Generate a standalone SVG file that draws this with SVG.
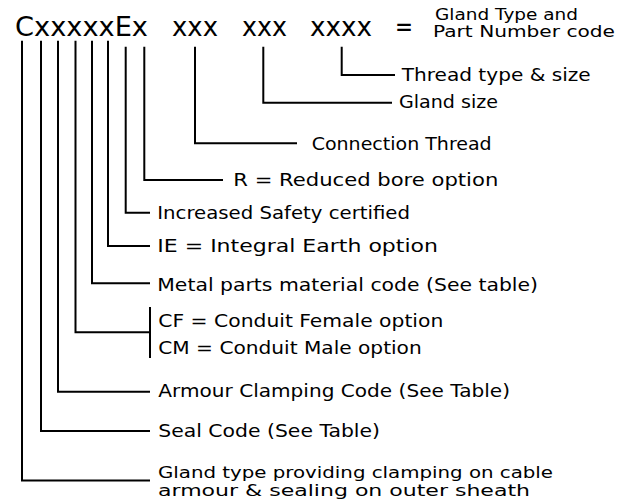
<svg xmlns="http://www.w3.org/2000/svg" width="621" height="500" viewBox="0 0 621 500">
<style>
.t{font-family:"DejaVu Sans","Liberation Sans",sans-serif;font-size:17px;fill:#000}
.s{font-family:"DejaVu Sans","Liberation Sans",sans-serif;font-size:16px;fill:#000}
.g{font-family:"DejaVu Sans","Liberation Sans",sans-serif;font-size:15px;fill:#000}
.h{font-family:"DejaVu Sans","Liberation Sans",sans-serif;font-size:26px;fill:#000}
.c{fill:none;stroke:#000;stroke-width:2}
</style>
<rect width="621" height="500" fill="#fff"/>
<g id="code">
<text class="h" x="15" y="36" textLength="133" lengthAdjust="spacingAndGlyphs">CxxxxxEx</text>
<text class="h" x="172" y="36" textLength="46" lengthAdjust="spacingAndGlyphs">xxx</text>
<text class="h" x="242" y="36" textLength="45" lengthAdjust="spacingAndGlyphs">xxx</text>
<text class="h" x="310" y="36" textLength="62" lengthAdjust="spacingAndGlyphs">xxxx</text>
<text class="h" x="395" y="36" textLength="18" lengthAdjust="spacingAndGlyphs">=</text>
</g>
<g id="title">
<text class="g" x="435" y="19.5" textLength="143" lengthAdjust="spacingAndGlyphs">Gland Type and</text>
<text class="g" x="433" y="37" textLength="182" lengthAdjust="spacingAndGlyphs">Part Number code</text>
</g>
<g id="connectors">
<path class="c" d="M341.7,46.7V75H395"/>
<path class="c" d="M263.3,46.7V102.7H392"/>
<path class="c" d="M195,46.7V143.3H297"/>
<path class="c" d="M144.3,46.7V180H223"/>
<path class="c" d="M125.7,46.7V212.7H150"/>
<path class="c" d="M108,40.7V246H150"/>
<path class="c" d="M92,40.7V283.3H150"/>
<path class="c" d="M75.5,40.7V332.3H150"/>
<path class="c" d="M150,307V358"/>
<path class="c" d="M58,40.7V391.7H150"/>
<path class="c" d="M41,40.7V431H150"/>
<path class="c" d="M22,40.7V480.5H150"/>
</g>
<g id="thread-type"><text class="t" x="401.7" y="80.7" textLength="189" lengthAdjust="spacingAndGlyphs">Thread type &amp; size</text></g>
<g id="gland-size"><text class="t" x="399" y="108.3" textLength="99" lengthAdjust="spacingAndGlyphs">Gland size</text></g>
<g id="connection-thread"><text class="t" x="311.7" y="150" textLength="180" lengthAdjust="spacingAndGlyphs">Connection Thread</text></g>
<g id="reduced-bore"><text class="t" x="233.3" y="185.5" textLength="265" lengthAdjust="spacingAndGlyphs">R = Reduced bore option</text></g>
<g id="increased-safety"><text class="t" x="157.3" y="218.5" textLength="252.7" lengthAdjust="spacingAndGlyphs">Increased Safety certified</text></g>
<g id="integral-earth"><text class="t" x="157.3" y="251.7" textLength="280.7" lengthAdjust="spacingAndGlyphs">IE = Integral Earth option</text></g>
<g id="metal-parts"><text class="t" x="157.3" y="291" textLength="380.7" lengthAdjust="spacingAndGlyphs">Metal parts material code (See table)</text></g>
<g id="conduit">
<text class="t" x="158.3" y="326.5" textLength="285" lengthAdjust="spacingAndGlyphs">CF = Conduit Female option</text>
<text class="t" x="158.3" y="354" textLength="263.4" lengthAdjust="spacingAndGlyphs">CM = Conduit Male option</text>
</g>
<g id="armour-clamping"><text class="t" x="158.3" y="397.3" textLength="351.7" lengthAdjust="spacingAndGlyphs">Armour Clamping Code (See Table)</text></g>
<g id="seal-code"><text class="t" x="158.3" y="436.7" textLength="221.7" lengthAdjust="spacingAndGlyphs">Seal Code (See Table)</text></g>
<g id="gland-type">
<text class="s" x="158" y="477.5" textLength="395" lengthAdjust="spacingAndGlyphs">Gland type providing clamping on cable</text>
<text class="s" x="158" y="495.5" textLength="372" lengthAdjust="spacingAndGlyphs">armour &amp; sealing on outer sheath</text>
</g>
</svg>
